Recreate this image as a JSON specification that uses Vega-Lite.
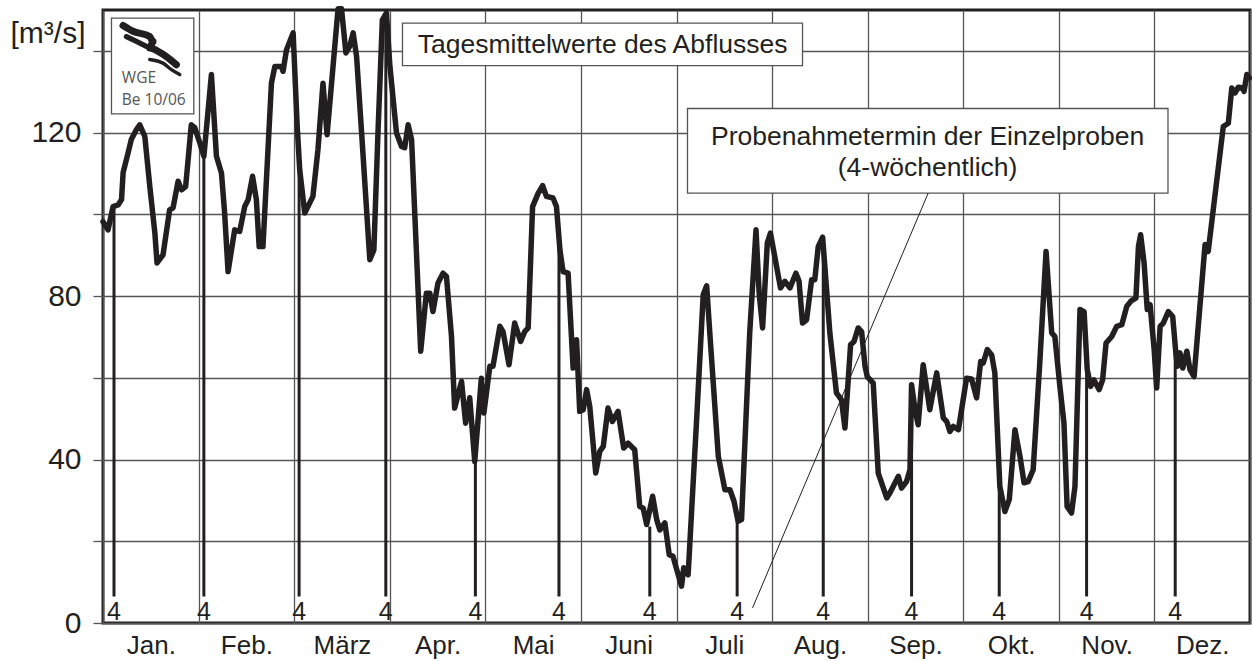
{
  "$schema": "https://vega.github.io/schema/vega-lite/v6.json",
  "width": 1147,
  "height": 613,
  "autosize": {"type": "none"},
  "padding": {"left": 103, "top": 10, "right": 2, "bottom": 38},
  "background": "white",
  "config": {
    "view": {"stroke": "#231f20", "strokeWidth": 3},
    "font": "Liberation Sans",
    "axis": {"gridColor": "#555555", "gridWidth": 1.3, "gridOpacity": 1, "domain": false, "labelFont": "Liberation Sans", "labelColor": "#231f20", "titleFont": "Liberation Sans", "titleColor": "#231f20"}
  },
  "encoding": {
    "x": {
      "field": "t", "type": "quantitative",
      "scale": {"domain": [0, 365], "nice": false, "zero": false},
      "axis": {
        "title": null,
        "values": [0, 30.4167, 60.8333, 91.25, 121.6667, 152.0833, 182.5, 212.9167, 243.3333, 273.75, 304.1667, 334.5833, 365],
        "labelExpr": "['Jan.','Feb.','März','Apr.','Mai','Juni','Juli','Aug.','Sep.','Okt.','Nov.','Dez.',''][round(datum.value/30.4167)]",
        "labelOffset": 47.8,
        "ticks": false,
        "tickSize": 0,
        "labelPadding": 9,
        "labelFontSize": 26,
        "labelOverlap": false,
        "labelFlush": false,
        "labelBound": false,
        "grid": true
      }
    },
    "y": {
      "field": "q", "type": "quantitative",
      "scale": {"domain": [0, 150], "nice": false, "zero": true},
      "axis": {
        "title": "[m³/s]",
        "titleAngle": 0,
        "titleFontSize": 30,
        "titleFontWeight": "normal",
        "titleAlign": "left",
        "titleBaseline": "alphabetic",
        "titleX": -93,
        "titleY": 32,
        "values": [0, 20, 40, 60, 80, 100, 120, 140],
        "labelExpr": "datum.value % 40 == 0 ? datum.label : ''",
        "tickSize": 10,
        "tickColor": "#555555",
        "tickWidth": 1.3,
        "labelFontSize": 30,
        "labelPadding": 12,
        "labelOverlap": false,
        "labelFlush": false,
        "grid": true
      }
    }
  },
  "layer": [
    {
      "data": {"values": [
        {"name": "logo", "t": 2.7, "t2": 28.9, "q": 124.6, "q2": 148.0},
        {"name": "titel", "t": 95.3, "t2": 222.6, "q": 136.4, "q2": 146.8},
        {"name": "proben", "t": 186.0, "t2": 338.9, "q": 105.2, "q2": 125.9}
      ]},
      "mark": {"type": "rect", "fill": "white", "stroke": "#555555", "strokeWidth": 1.3},
      "encoding": {"x2": {"field": "t2"}, "y2": {"field": "q2"}}
    },
    {
      "data": {"values": [
        {"t": 262.6, "q": 105.2, "t2": 206.7, "q2": 3.7}
      ]},
      "mark": {"type": "rule", "color": "#231f20", "strokeWidth": 1},
      "encoding": {"x2": {"field": "t2"}, "y2": {"field": "q2"}}
    },
    {
      "data": {"values": [
        {"t": 3.5, "q": 102}, {"t": 32.1, "q": 114.2}, {"t": 62.4, "q": 110.9}, {"t": 90.0, "q": 149},
        {"t": 118.5, "q": 39.5}, {"t": 145.1, "q": 92}, {"t": 174.0, "q": 23.6}, {"t": 201.8, "q": 24.9},
        {"t": 229.2, "q": 94}, {"t": 257.3, "q": 58.3}, {"t": 285.2, "q": 33.4}, {"t": 313.0, "q": 62},
        {"t": 341.2, "q": 66.1}
      ]},
      "layer": [
        {
          "mark": {"type": "rule", "color": "#231f20", "strokeWidth": 3},
          "encoding": {"y": {"datum": 6.5}, "y2": {"field": "q"}}
        },
        {
          "mark": {"type": "text", "text": "4", "fontSize": 25, "color": "#231f20", "align": "center", "baseline": "alphabetic"},
          "encoding": {"y": {"datum": 0.8}}
        }
      ]
    },
    {
      "data": {"values": [
        {"t":0,"q":98.2},{"t":1.6,"q":96.2},{"t":3.2,"q":101.9},{"t":4.8,"q":102.3},{"t":5.9,"q":103.6},{"t":6.4,"q":110.2},{"t":8.0,"q":115.1},{"t":9.0,"q":118.3},{"t":10.6,"q":120.7},{"t":11.7,"q":121.9},{"t":13.3,"q":119.1},{"t":14.9,"q":106.8},{"t":16.5,"q":95.5},{"t":17.2,"q":88.1},{"t":19.1,"q":90.1},{"t":21.2,"q":101.1},{"t":22.3,"q":101.6},{"t":23.9,"q":108.1},{"t":25.0,"q":106.0},{"t":26.3,"q":106.8},{"t":28.1,"q":121.9},{"t":29.2,"q":121.2},{"t":30.8,"q":117.5},{"t":32.1,"q":114.2},{"t":34.5,"q":134.2},{"t":36.1,"q":114.2},{"t":37.7,"q":110.1},{"t":38.7,"q":100.4},{"t":39.8,"q":86.0},{"t":41.9,"q":96.2},{"t":43.5,"q":95.8},{"t":45.1,"q":101.9},{"t":46.2,"q":103.6},{"t":47.6,"q":109.3},{"t":48.8,"q":103.6},{"t":49.7,"q":92.1},{"t":50.9,"q":92.1},{"t":53.6,"q":132.1},{"t":54.7,"q":136.2},{"t":56.8,"q":136.2},{"t":57.3,"q":135.0},{"t":58.4,"q":140.3},{"t":60.5,"q":144.4},{"t":61.8,"q":121.5},{"t":62.6,"q":110.9},{"t":64.2,"q":100.3},{"t":66.8,"q":104.4},{"t":68.4,"q":115.8},{"t":70.0,"q":132.1},{"t":71.3,"q":119.5},{"t":73.2,"q":136.2},{"t":74.8,"q":150.3},{"t":75.9,"q":150.3},{"t":77.3,"q":139.5},{"t":78.5,"q":141.1},{"t":79.6,"q":144.4},{"t":80.7,"q":138.6},{"t":82.3,"q":119.9},{"t":84.9,"q":88.9},{"t":86.2,"q":91.3},{"t":87.5,"q":119.9},{"t":88.9,"q":147.6},{"t":90.2,"q":149.3},{"t":91.3,"q":136.2},{"t":93.4,"q":119.9},{"t":95.0,"q":116.6},{"t":96.0,"q":116.3},{"t":97.1,"q":121.9},{"t":98.2,"q":118.3},{"t":99.2,"q":100.4},{"t":101.1,"q":66.5},{"t":102.9,"q":80.7},{"t":104.0,"q":80.7},{"t":105.0,"q":76.2},{"t":106.6,"q":83.2},{"t":108.2,"q":85.6},{"t":109.3,"q":84.8},{"t":110.9,"q":70.1},{"t":111.9,"q":52.6},{"t":114.1,"q":59.1},{"t":115.4,"q":48.9},{"t":116.7,"q":55.1},{"t":118.3,"q":39.5},{"t":120.4,"q":59.9},{"t":121.2,"q":51.4},{"t":123.1,"q":62.8},{"t":124.1,"q":62.8},{"t":126.3,"q":72.6},{"t":127.3,"q":71.3},{"t":129.2,"q":63.2},{"t":131.0,"q":73.4},{"t":132.9,"q":68.9},{"t":134.2,"q":71.3},{"t":135.3,"q":72.2},{"t":136.7,"q":101.9},{"t":138.5,"q":105.2},{"t":139.9,"q":107.0},{"t":141.1,"q":104.4},{"t":143.2,"q":104.0},{"t":144.3,"q":101.9},{"t":145.4,"q":91.3},{"t":146.4,"q":86.0},{"t":148.0,"q":85.6},{"t":149.6,"q":62.4},{"t":150.7,"q":69.3},{"t":151.7,"q":51.8},{"t":152.8,"q":52.2},{"t":153.9,"q":57.1},{"t":154.9,"q":53.0},{"t":156.8,"q":36.7},{"t":158.1,"q":42.0},{"t":159.2,"q":43.2},{"t":160.7,"q":52.6},{"t":162.1,"q":49.3},{"t":163.9,"q":51.8},{"t":165.7,"q":42.8},{"t":167.1,"q":44.0},{"t":169.2,"q":42.4},{"t":170.8,"q":28.5},{"t":171.9,"q":28.1},{"t":173.0,"q":24.1},{"t":174.9,"q":31.0},{"t":176.2,"q":25.3},{"t":177.2,"q":22.8},{"t":178.8,"q":24.5},{"t":180.2,"q":16.7},{"t":181.4,"q":16.3},{"t":182.6,"q":13.0},{"t":184.1,"q":9.0},{"t":184.8,"q":13.5},{"t":186.2,"q":11.8},{"t":188.9,"q":49.7},{"t":191.0,"q":80.3},{"t":192.1,"q":82.5},{"t":193.1,"q":71.0},{"t":195.8,"q":40.8},{"t":197.9,"q":32.6},{"t":199.5,"q":32.6},{"t":200.8,"q":29.8},{"t":202.1,"q":24.9},{"t":203.2,"q":25.3},{"t":205.8,"q":71.0},{"t":207.8,"q":96.2},{"t":208.8,"q":80.7},{"t":209.9,"q":72.2},{"t":211.4,"q":93.0},{"t":212.4,"q":95.4},{"t":215.6,"q":82.0},{"t":217.0,"q":83.6},{"t":218.6,"q":82.0},{"t":220.5,"q":85.6},{"t":221.5,"q":83.6},{"t":222.6,"q":73.4},{"t":223.9,"q":74.2},{"t":225.5,"q":84.0},{"t":226.5,"q":84.0},{"t":227.6,"q":92.1},{"t":229.0,"q":94.4},{"t":229.7,"q":87.3},{"t":231.3,"q":71.0},{"t":233.4,"q":56.3},{"t":235.0,"q":54.6},{"t":236.1,"q":47.7},{"t":237.9,"q":68.1},{"t":239.0,"q":68.9},{"t":240.3,"q":72.2},{"t":241.4,"q":71.3},{"t":242.5,"q":62.8},{"t":243.2,"q":60.3},{"t":245.1,"q":58.7},{"t":246.7,"q":36.7},{"t":249.4,"q":30.6},{"t":250.4,"q":31.8},{"t":253.1,"q":35.9},{"t":254.1,"q":33.0},{"t":255.7,"q":34.6},{"t":256.8,"q":37.5},{"t":257.3,"q":58.3},{"t":258.4,"q":52.2},{"t":259.4,"q":48.5},{"t":261.0,"q":63.2},{"t":263.1,"q":52.2},{"t":265.3,"q":61.2},{"t":267.4,"q":50.2},{"t":268.5,"q":49.3},{"t":269.5,"q":46.9},{"t":270.6,"q":48.1},{"t":272.2,"q":47.3},{"t":274.8,"q":59.9},{"t":276.4,"q":59.7},{"t":278.0,"q":55.1},{"t":279.3,"q":64.0},{"t":280.1,"q":63.6},{"t":281.4,"q":66.9},{"t":282.8,"q":65.6},{"t":283.8,"q":61.2},{"t":285.4,"q":33.4},{"t":287.0,"q":27.3},{"t":288.4,"q":30.2},{"t":290.2,"q":47.3},{"t":291.8,"q":40.8},{"t":293.1,"q":34.3},{"t":294.4,"q":34.6},{"t":296.0,"q":37.5},{"t":298.1,"q":63.6},{"t":300.1,"q":90.9},{"t":301.9,"q":71.0},{"t":302.9,"q":70.1},{"t":304.5,"q":57.9},{"t":305.8,"q":48.9},{"t":306.8,"q":28.5},{"t":308.2,"q":26.9},{"t":309.3,"q":33.4},{"t":310.9,"q":76.7},{"t":312.2,"q":76.2},{"t":313.2,"q":62.0},{"t":314.3,"q":57.9},{"t":315.3,"q":59.5},{"t":317.0,"q":57.1},{"t":318.1,"q":59.5},{"t":319.2,"q":68.5},{"t":321.0,"q":70.1},{"t":322.6,"q":72.6},{"t":324.2,"q":73.0},{"t":325.8,"q":77.5},{"t":327.3,"q":78.9},{"t":328.7,"q":79.5},{"t":329.5,"q":92.1},{"t":330.2,"q":95.0},{"t":331.3,"q":88.1},{"t":332.3,"q":76.7},{"t":333.2,"q":77.9},{"t":334.5,"q":66.9},{"t":335.3,"q":57.5},{"t":336.4,"q":72.6},{"t":337.4,"q":73.4},{"t":339.0,"q":76.2},{"t":340.4,"q":75.0},{"t":341.4,"q":66.1},{"t":341.9,"q":62.8},{"t":342.7,"q":66.1},{"t":343.6,"q":62.4},{"t":344.9,"q":66.5},{"t":345.9,"q":62.0},{"t":347.2,"q":60.3},{"t":350.7,"q":92.6},{"t":351.7,"q":90.9},{"t":356.5,"q":121.5},{"t":358.1,"q":122.3},{"t":359.2,"q":130.9},{"t":360.2,"q":129.7},{"t":361.3,"q":131.1},{"t":362.7,"q":130.9},{"t":363.1,"q":130.1},{"t":364.0,"q":134.2},{"t":364.8,"q":133.4}
      ]},
      "mark": {"type": "line", "color": "#231f20", "strokeWidth": 5.5, "strokeJoin": "round", "strokeCap": "round"}
    },
    {
      "data": {"values": [
        {"t": 159.0, "q": 139.5, "text": "Tagesmittelwerte des Abflusses"},
        {"t": 262.4, "q": 116.9, "text": "Probenahmetermin der Einzelproben"},
        {"t": 262.4, "q": 109.3, "text": "(4-wöchentlich)"}
      ]},
      "mark": {"type": "text", "fontSize": 26.5, "color": "#231f20", "align": "center", "baseline": "alphabetic"},
      "encoding": {"text": {"field": "text"}}
    },
    {
      "data": {"values": [
        {"t": 6.0, "q": 132.1, "text": "WGE"},
        {"t": 6.0, "q": 126.8, "text": "Be 10/06"}
      ]},
      "mark": {"type": "text", "font": "Open Sans", "fontSize": 15.5, "color": "#555555", "align": "left", "baseline": "alphabetic"},
      "encoding": {"text": {"field": "text"}}
    },
    {
      "data": {"values": [
        {"stroke": "A", "i": 1, "t": 6.37, "q": 146.2}, {"stroke": "A", "i": 2, "t": 9.55, "q": 144.8},
        {"stroke": "A", "i": 3, "t": 14.87, "q": 143.5}, {"stroke": "A", "i": 4, "t": 15.92, "q": 142.3},
        {"stroke": "A", "i": 5, "t": 14.87, "q": 140.7}, {"stroke": "A", "i": 6, "t": 17.51, "q": 139.9},
        {"stroke": "A", "i": 7, "t": 20.18, "q": 138.6}, {"stroke": "A", "i": 8, "t": 23.36, "q": 136.6},
        {"stroke": "B", "i": 1, "t": 7.45, "q": 143.5}, {"stroke": "B", "i": 2, "t": 10.63, "q": 142.3},
        {"stroke": "B", "i": 3, "t": 13.81, "q": 141.1},
        {"stroke": "C", "i": 1, "t": 14.87, "q": 137.9}, {"stroke": "C", "i": 2, "t": 19.1, "q": 137.0},
        {"stroke": "C", "i": 3, "t": 21.77, "q": 135.4}, {"stroke": "C", "i": 4, "t": 24.41, "q": 134.2}
      ]},
      "mark": {"type": "line", "color": "#231f20", "strokeCap": "round", "strokeJoin": "round", "interpolate": "monotone"},
      "encoding": {
        "detail": {"field": "stroke"},
        "order": {"field": "i"},
        "strokeWidth": {"field": "stroke", "type": "nominal", "scale": {"domain": ["A", "B", "C"], "range": [7, 3.5, 5]}, "legend": null}
      }
    }
  ]
}
